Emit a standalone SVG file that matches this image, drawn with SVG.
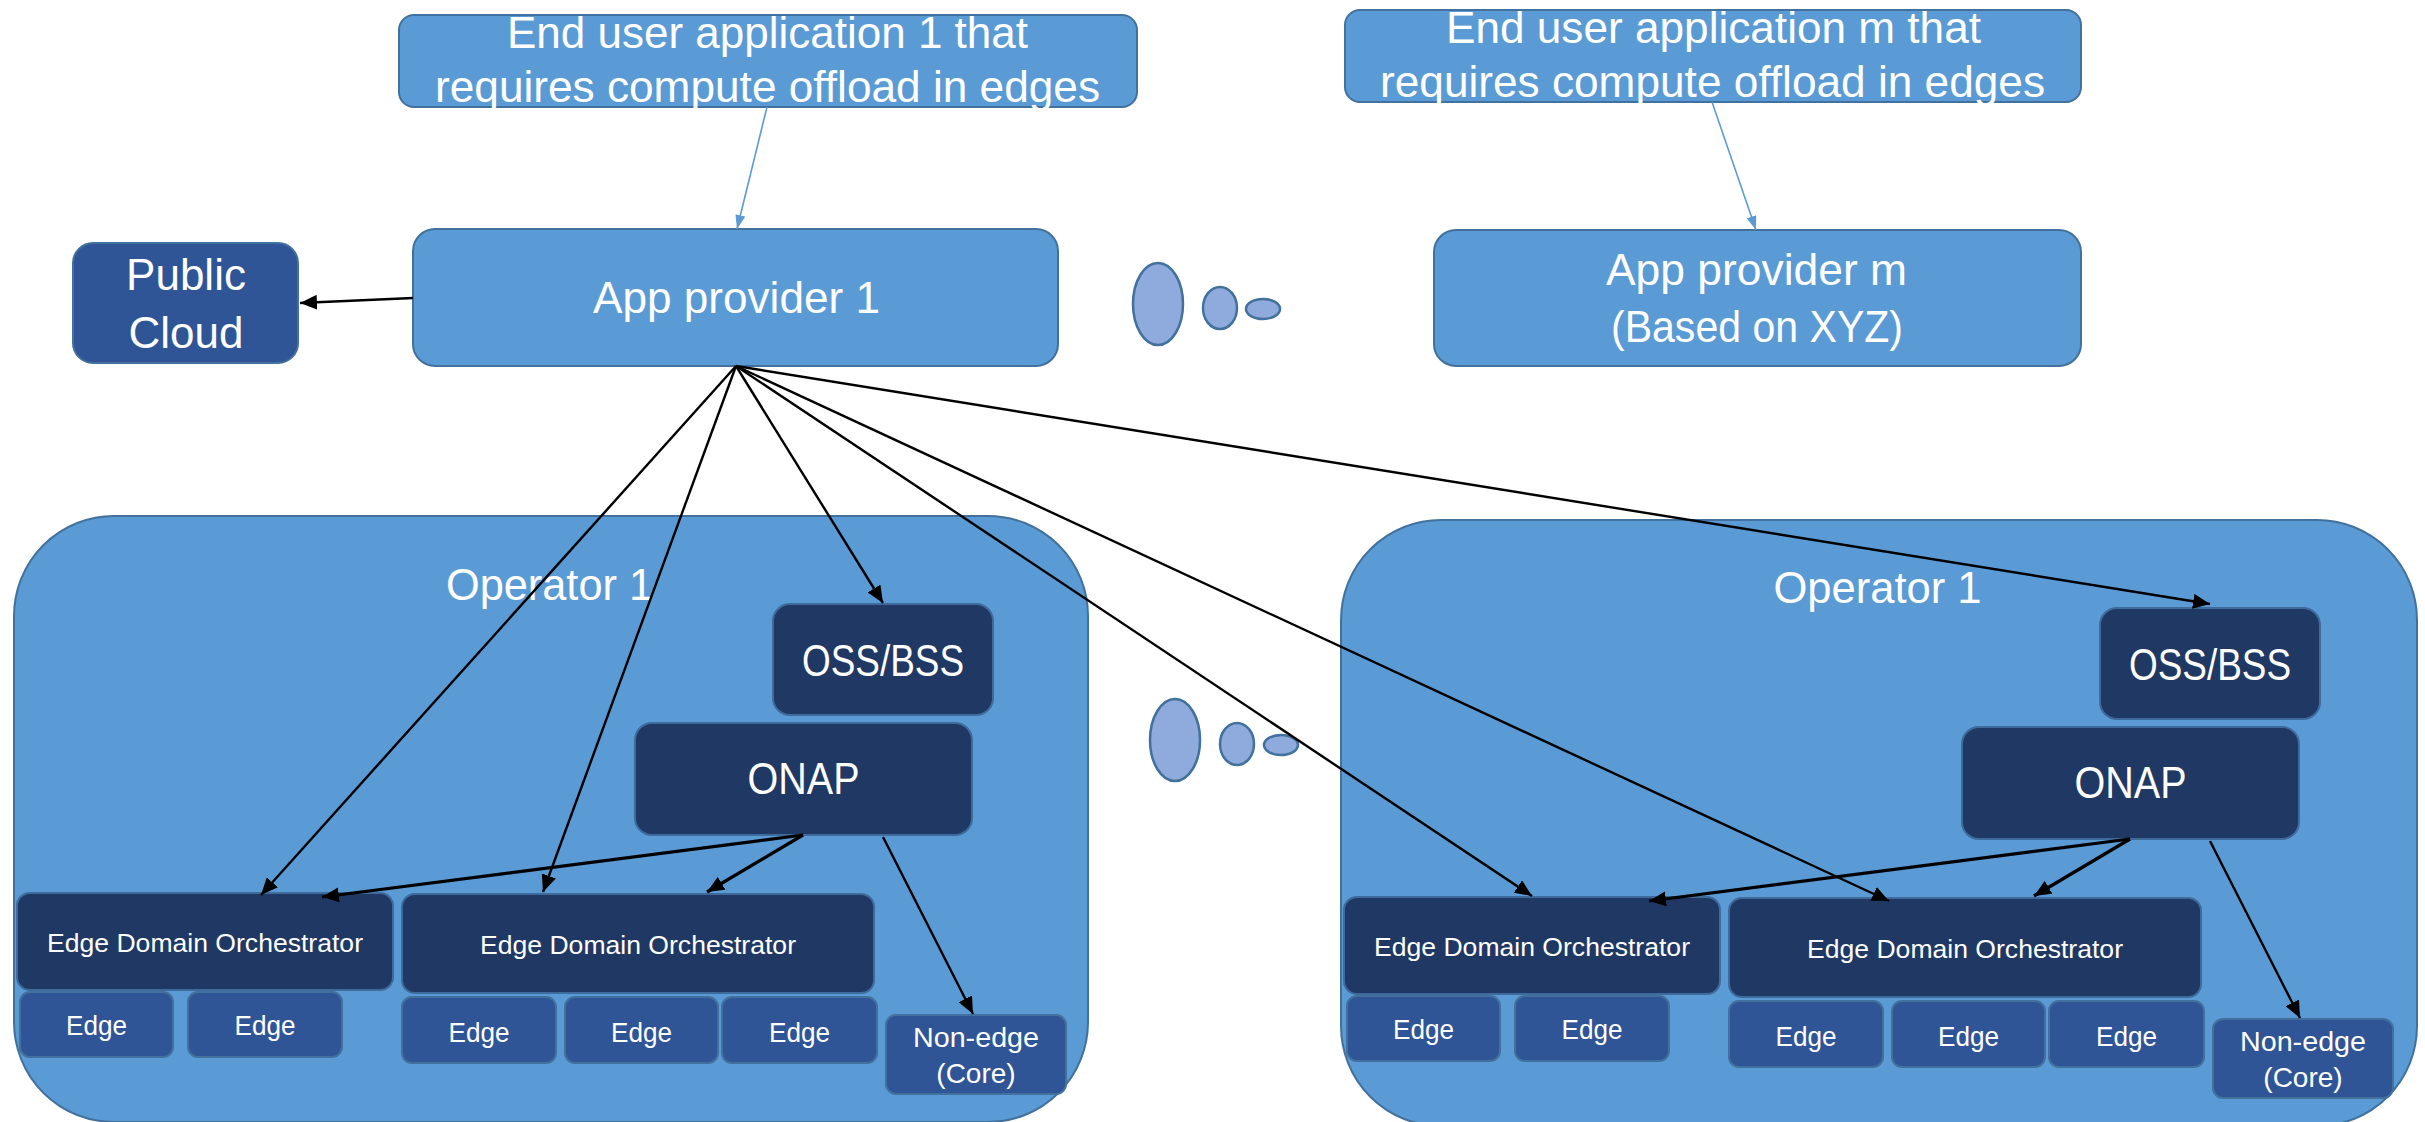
<svg xmlns="http://www.w3.org/2000/svg" width="2425" height="1122" viewBox="0 0 2425 1122">
<style>
.box{fill:#5B9BD5;stroke:#41719C;stroke-width:2}
.dark{fill:#203864;stroke:#3E6A9C;stroke-width:2}
.mid{fill:#2F5597;stroke:#41719C;stroke-width:2}
.dot{fill:#8FAADC;stroke:#41719C;stroke-width:2.5}
.t{font-family:"Liberation Sans",Arial,sans-serif;fill:#fff;text-anchor:middle}
.t44{font-size:44px}
.t28{font-size:28px}
.t26{font-size:26px}
.conn{stroke:#000;stroke-width:2.4;fill:none;marker-end:url(#ah)}
.thick{stroke-width:3.2}
.blue{stroke:#5B9BD5;stroke-width:1.6;fill:none;marker-end:url(#ahb)}
</style>
<defs>
<marker id="ah" markerUnits="userSpaceOnUse" markerWidth="17" markerHeight="15" viewBox="0 0 17 15" refX="17" refY="7.5" orient="auto"><path d="M0,0 L17,7.5 L0,15 z" fill="#000"/></marker>
<marker id="ahb" markerUnits="userSpaceOnUse" markerWidth="14" markerHeight="10" viewBox="0 0 14 10" refX="14" refY="5" orient="auto"><path d="M0,0 L14,5 L0,10 z" fill="#5B9BD5"/></marker>
</defs>
<rect width="2425" height="1122" fill="#fff"/>

<g id="enduser1">
<rect class="box" x="399" y="15" width="738" height="92" rx="15"/>
<text class="t t44" x="767.5" y="48" textLength="521" lengthAdjust="spacingAndGlyphs">End user application 1 that</text>
<text class="t t44" x="767.5" y="102" textLength="665" lengthAdjust="spacingAndGlyphs">requires compute offload in edges</text>
</g>
<g id="endusercm">
<rect class="box" x="1345" y="10" width="736" height="92" rx="15"/>
<text class="t t44" x="1713.5" y="43" textLength="535" lengthAdjust="spacingAndGlyphs">End user application m that</text>
<text class="t t44" x="1712.5" y="97" textLength="665" lengthAdjust="spacingAndGlyphs">requires compute offload in edges</text>
</g>
<g id="publiccloud">
<rect class="mid" x="73" y="243" width="225" height="120" rx="20"/>
<text class="t t44" x="186" y="290">Public</text>
<text class="t t44" x="186" y="348">Cloud</text>
</g>
<g id="appprovider1">
<rect class="box" x="413" y="229" width="645" height="137" rx="22"/>
<text class="t t44" x="736.5" y="313" textLength="287" lengthAdjust="spacingAndGlyphs">App provider 1</text>
</g>
<g id="appproviderm">
<rect class="box" x="1434" y="230" width="647" height="136" rx="22"/>
<text class="t t44" x="1756.5" y="285" textLength="301" lengthAdjust="spacingAndGlyphs">App provider m</text>
<text class="t t44" x="1757" y="342" textLength="292" lengthAdjust="spacingAndGlyphs">(Based on XYZ)</text>
</g>
<g id="dots-top">
<ellipse class="dot" cx="1158" cy="304" rx="25" ry="41"/>
<ellipse class="dot" cx="1220" cy="308" rx="17" ry="21"/>
<ellipse class="dot" cx="1263" cy="309" rx="17" ry="10"/>
</g>
<g id="dots-bottom">
<ellipse class="dot" cx="1175" cy="740" rx="25" ry="41"/>
<ellipse class="dot" cx="1237" cy="744" rx="17" ry="21"/>
<ellipse class="dot" cx="1281" cy="745" rx="17" ry="10"/>
</g>

<g id="operator-left">
<g id="op1">
<rect class="box" x="14" y="516" width="1074" height="606" rx="100"/>
<text class="t t44" x="549.5" y="600" textLength="207" lengthAdjust="spacingAndGlyphs">Operator 1</text>
</g>
<g id="op1-oss"><rect class="dark" x="773" y="604" width="220" height="111" rx="17"/><text class="t t44" x="883" y="676" textLength="162" lengthAdjust="spacingAndGlyphs">OSS/BSS</text></g>
<g id="op1-onap"><rect class="dark" x="635" y="723" width="337" height="112" rx="17"/><text class="t t44" x="803.5" y="794" textLength="112" lengthAdjust="spacingAndGlyphs">ONAP</text></g>
<g id="op1-edo1"><rect class="dark" x="17" y="893" width="376" height="97" rx="13"/><text class="t t26" x="205" y="952" textLength="316" lengthAdjust="spacingAndGlyphs">Edge Domain Orchestrator</text></g>
<g id="op1-edo2"><rect class="dark" x="402" y="894" width="472" height="99" rx="13"/><text class="t t26" x="638" y="954" textLength="316" lengthAdjust="spacingAndGlyphs">Edge Domain Orchestrator</text></g>
<g id="op1-edge1"><rect class="mid" x="20" y="992" width="153" height="65" rx="10"/><text class="t t28" x="96.5" y="1035" textLength="61" lengthAdjust="spacingAndGlyphs">Edge</text></g>
<g id="op1-edge2"><rect class="mid" x="188" y="992" width="154" height="65" rx="10"/><text class="t t28" x="265" y="1035" textLength="61" lengthAdjust="spacingAndGlyphs">Edge</text></g>
<g id="op1-edge3"><rect class="mid" x="402" y="997" width="154" height="66" rx="10"/><text class="t t28" x="479" y="1042" textLength="61" lengthAdjust="spacingAndGlyphs">Edge</text></g>
<g id="op1-edge4"><rect class="mid" x="565" y="997" width="153" height="66" rx="10"/><text class="t t28" x="641.5" y="1042" textLength="61" lengthAdjust="spacingAndGlyphs">Edge</text></g>
<g id="op1-edge5"><rect class="mid" x="722" y="997" width="155" height="66" rx="10"/><text class="t t28" x="799.5" y="1042" textLength="61" lengthAdjust="spacingAndGlyphs">Edge</text></g>
<g id="op1-core"><rect class="mid" x="886" y="1015" width="180" height="79" rx="10"/><text class="t t28" x="976" y="1047" textLength="126" lengthAdjust="spacingAndGlyphs">Non-edge</text><text class="t t28" x="976" y="1083">(Core)</text></g>
</g>

<g id="operator-right" transform="translate(1327,4)">
<g id="op2">
<rect class="box" x="14" y="516" width="1076" height="606" rx="100"/>
<text class="t t44" x="550.5" y="599" textLength="208" lengthAdjust="spacingAndGlyphs">Operator 1</text>
</g>
<g id="op2-oss"><rect class="dark" x="773" y="604" width="220" height="111" rx="17"/><text class="t t44" x="883" y="676" textLength="162" lengthAdjust="spacingAndGlyphs">OSS/BSS</text></g>
<g id="op2-onap"><rect class="dark" x="635" y="723" width="337" height="112" rx="17"/><text class="t t44" x="803.5" y="794" textLength="112" lengthAdjust="spacingAndGlyphs">ONAP</text></g>
<g id="op2-edo1"><rect class="dark" x="17" y="893" width="376" height="97" rx="13"/><text class="t t26" x="205" y="952" textLength="316" lengthAdjust="spacingAndGlyphs">Edge Domain Orchestrator</text></g>
<g id="op2-edo2"><rect class="dark" x="402" y="894" width="472" height="99" rx="13"/><text class="t t26" x="638" y="954" textLength="316" lengthAdjust="spacingAndGlyphs">Edge Domain Orchestrator</text></g>
<g id="op2-edge1"><rect class="mid" x="20" y="992" width="153" height="65" rx="10"/><text class="t t28" x="96.5" y="1035" textLength="61" lengthAdjust="spacingAndGlyphs">Edge</text></g>
<g id="op2-edge2"><rect class="mid" x="188" y="992" width="154" height="65" rx="10"/><text class="t t28" x="265" y="1035" textLength="61" lengthAdjust="spacingAndGlyphs">Edge</text></g>
<g id="op2-edge3"><rect class="mid" x="402" y="997" width="154" height="66" rx="10"/><text class="t t28" x="479" y="1042" textLength="61" lengthAdjust="spacingAndGlyphs">Edge</text></g>
<g id="op2-edge4"><rect class="mid" x="565" y="997" width="153" height="66" rx="10"/><text class="t t28" x="641.5" y="1042" textLength="61" lengthAdjust="spacingAndGlyphs">Edge</text></g>
<g id="op2-edge5"><rect class="mid" x="722" y="997" width="155" height="66" rx="10"/><text class="t t28" x="799.5" y="1042" textLength="61" lengthAdjust="spacingAndGlyphs">Edge</text></g>
<g id="op2-core"><rect class="mid" x="886" y="1015" width="180" height="79" rx="10"/><text class="t t28" x="976" y="1047" textLength="126" lengthAdjust="spacingAndGlyphs">Non-edge</text><text class="t t28" x="976" y="1083">(Core)</text></g>
</g>

<g id="connectors">
<line class="blue" x1="767" y1="107" x2="737" y2="229"/>
<line class="blue" x1="1712" y1="102" x2="1756" y2="230"/>
<line class="conn" x1="413" y1="298" x2="300" y2="303"/>
<line class="conn" x1="736" y1="366" x2="261" y2="895"/>
<line class="conn" x1="736" y1="366" x2="543" y2="892"/>
<line class="conn" x1="736" y1="366" x2="883" y2="603"/>
<line class="conn" x1="736" y1="366" x2="1532" y2="896"/>
<line class="conn" x1="736" y1="366" x2="1889" y2="901"/>
<line class="conn" x1="736" y1="366" x2="2210" y2="604"/>
<line class="conn thick" x1="803" y1="835" x2="322" y2="897"/>
<line class="conn thick" x1="803" y1="835" x2="707" y2="892"/>
<line class="conn" x1="883" y1="837" x2="973" y2="1014"/>
<line class="conn thick" x1="2130" y1="839" x2="1649" y2="901"/>
<line class="conn thick" x1="2130" y1="839" x2="2034" y2="896"/>
<line class="conn" x1="2210" y1="841" x2="2300" y2="1018"/>
</g>
</svg>
